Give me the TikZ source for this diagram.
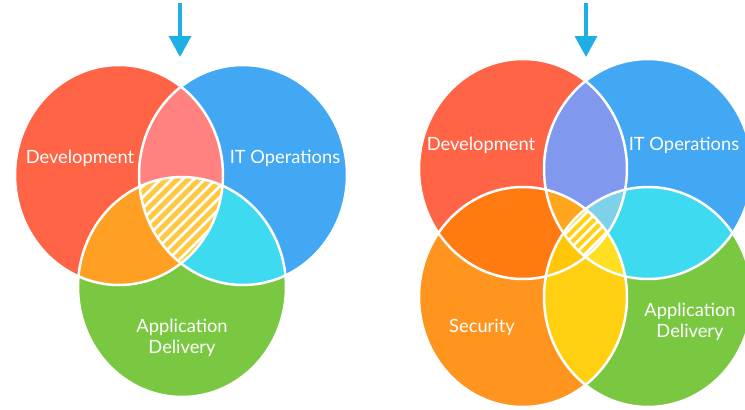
\documentclass[tikz,border=0pt]{standalone}
\usepackage{fontspec}
\setmainfont{Lato}
\usetikzlibrary{arrows.meta}
\definecolor{cRed}{HTML}{FF6446}
\definecolor{cBlue}{HTML}{42A8F3}
\definecolor{cGreen}{HTML}{7AC842}
\definecolor{cPink}{HTML}{FF8280}
\definecolor{cOrangeL}{HTML}{FFA024}
\definecolor{cCyan}{HTML}{3EDAF0}
\definecolor{cHatchL}{HTML}{FFC840}
\definecolor{cSec}{HTML}{FF941E}
\definecolor{cDarkOr}{HTML}{FF7A10}
\definecolor{cPurple}{HTML}{8098EE}
\definecolor{cYellow}{HTML}{FFD012}
\definecolor{cLightOr}{HTML}{FFA51E}
\definecolor{cLightBl}{HTML}{7DD2E8}
\definecolor{cYellowD}{HTML}{FFC60A}
\definecolor{cYellowL}{HTML}{FFDF22}
\definecolor{cHatchR}{HTML}{FFD214}
\definecolor{cArrow}{HTML}{1EAFE6}
\begin{document}
\begin{tikzpicture}[x=1pt,y=-1pt,
  el/.style={x radius=104pt,y radius=110pt},
  outl/.style={draw=white,line width=2.5pt},
  lbl/.style={text=white,font=\fontsize{18.3}{21.5}\selectfont,align=center,inner sep=0pt},
  hatchline/.style={white,line width=2.8pt},
  arr/.style={draw=cArrow,line width=3.5pt,-{Triangle[width=22pt,length=21pt]}}]
\useasboundingbox (0,0) rectangle (745,410);
% ---------- left diagram ----------
\fill[cRed] (119,175) ellipse[el];
\fill[cBlue] (243,175) ellipse[el];
\fill[cGreen] (182,287) ellipse[el];
\begin{scope}
  \clip (119,175) ellipse[el];
  \fill[cPink] (243,175) ellipse[el];
  \fill[cOrangeL] (182,287) ellipse[el];
\end{scope}
\begin{scope}
  \clip (243,175) ellipse[el];
  \fill[cCyan] (182,287) ellipse[el];
\end{scope}
\begin{scope}
  \clip (119,175) ellipse[el];
  \clip (243,175) ellipse[el];
  \clip (182,287) ellipse[el];
  \fill[cHatchL] (182,287) ellipse[el];
  \foreach \k in {-14,...,14}
    \draw[hatchline] ({181+\k*11-90},{214+90}) -- ({181+\k*11+90},{214-90});
\end{scope}
\draw[outl] (119,175) ellipse[el];
\draw[outl] (243,175) ellipse[el];
\draw[outl] (182,287) ellipse[el];
\node[lbl] (ldev) at (80,158) {Development};
\node[lbl] (lops) at (285,158) {IT Operations};
\node[lbl] (lapp) at (182,338) {Application\\Delivery};
\coordinate (la1) at (180,3);
\coordinate (la2) at (180,57);
\draw[arr] (la1) -- (la2);
% ---------- right diagram ----------
\fill[cRed] (523,169) ellipse[el];
\fill[cBlue] (648,169) ellipse[el];
\fill[cSec] (523,297) ellipse[el];
\fill[cGreen] (648,297) ellipse[el];
\begin{scope}
  \clip (523,169) ellipse[el];
  \fill[cPurple] (648,169) ellipse[el];
  \fill[cDarkOr] (523,297) ellipse[el];
\end{scope}
\begin{scope}
  \clip (648,297) ellipse[el];
  \fill[cCyan] (648,169) ellipse[el];
  \fill[cYellow] (523,297) ellipse[el];
\end{scope}
\begin{scope}
  \clip (523,169) ellipse[el];
  \clip (648,169) ellipse[el];
  \fill[cLightOr] (523,297) ellipse[el];
  \fill[cLightBl] (648,297) ellipse[el];
\end{scope}
\begin{scope}
  \clip (523,297) ellipse[el];
  \clip (648,297) ellipse[el];
  \fill[cYellowD] (523,169) ellipse[el];
  \fill[cYellowL] (648,169) ellipse[el];
\end{scope}
\begin{scope}
  \clip (523,169) ellipse[el];
  \clip (648,169) ellipse[el];
  \clip (523,297) ellipse[el];
  \clip (648,297) ellipse[el];
  \fill[cHatchR] (586,233) circle (80pt);
  \foreach \k in {-10,...,10}
    \draw[hatchline] ({586+\k*10-70},{233+70}) -- ({586+\k*10+70},{233-70});
\end{scope}
\draw[outl] (523,169) ellipse[el];
\draw[outl] (648,169) ellipse[el];
\draw[outl] (523,297) ellipse[el];
\draw[outl] (648,297) ellipse[el];
\node[lbl] (rdev) at (481,145) {Development};
\node[lbl] (rops) at (684,145) {IT Operations};
\node[lbl] (rsec) at (482,327) {Security};
\node[lbl] (rapp) at (690,322) {Application\\Delivery};
\coordinate (ra1) at (586,3);
\coordinate (ra2) at (586,57);
\draw[arr] (ra1) -- (ra2);
\end{tikzpicture}
\end{document}
